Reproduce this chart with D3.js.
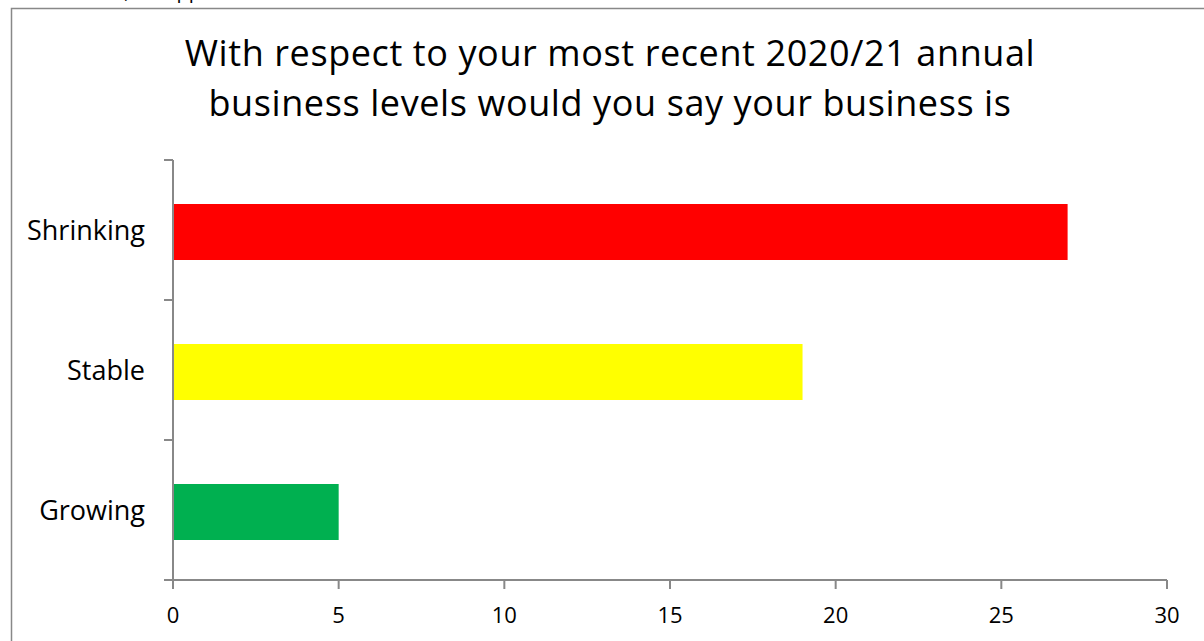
<!DOCTYPE html>
<html><head><meta charset="utf-8">
<script src="https://cdn.jsdelivr.net/npm/d3@7"></script>
<style>
html,body{margin:0;padding:0;background:#fff;overflow:hidden;}
text{font-family:"Open Sans",sans-serif;}
</style></head>
<body>
<svg id="c" width="1204" height="641"></svg>
<script>
const categories = ["Shrinking", "Stable", "Growing"];
const values = [27, 19, 5];
const colors = ["#ff0000", "#ffff00", "#00b050"];
const xTicks = [0, 5, 10, 15, 20, 25, 30];
const titleLines = ["With respect to your most recent 2020/21 annual", "business levels would you say your business is"];
const topNote = "51 answered, 1 skipped";

const svg = d3.select("#c");
svg.append("text").attr("x", 5).attr("y", -2).attr("font-size", 20).attr("fill", "#000").text(topNote);
svg.append("rect").attr("x", 11.5).attr("y", 8.5).attr("width", 1300).attr("height", 700)
  .attr("fill", "#fff").attr("stroke", "#888").attr("stroke-width", 1.5);

svg.selectAll("text.title").data(titleLines).join("text").attr("class", "title")
  .attr("x", 610).attr("y", (d, i) => 66 + i * 50).attr("text-anchor", "middle")
  .attr("font-size", 36).attr("letter-spacing", 0.6).attr("fill", "#000").text(d => d);

const x = d3.scaleLinear().domain([0, 30]).range([173, 1167]);
const y = d3.scaleBand().domain(categories).range([162, 582]).paddingInner(0.6).paddingOuter(0.3);
const yb = d3.scaleLinear().domain([0, 3]).range([160, 580]);

svg.selectAll("rect.bar").data(categories).join("rect").attr("class", "bar")
  .attr("x", x(0)).attr("y", d => y(d)).attr("width", (d, i) => x(values[i]) - x(0))
  .attr("height", y.bandwidth()).attr("fill", (d, i) => colors[i]);

const axisColor = "#888";
svg.append("line").attr("x1", 173).attr("x2", 173).attr("y1", 160).attr("y2", 580)
  .attr("stroke", axisColor).attr("stroke-width", 2);
svg.selectAll("line.yt").data(d3.range(4)).join("line").attr("class", "yt")
  .attr("x1", 164).attr("x2", 173).attr("y1", d => yb(d)).attr("y2", d => yb(d))
  .attr("stroke", axisColor).attr("stroke-width", 2);
svg.selectAll("text.yl").data(categories).join("text").attr("class", "yl")
  .attr("x", 145).attr("y", d => y(d) + y.bandwidth() / 2).attr("dy", "0.3em")
  .attr("text-anchor", "end").attr("font-size", 27).attr("fill", "#000").text(d => d);

svg.append("line").attr("x1", 164).attr("x2", 1167).attr("y1", 580).attr("y2", 580)
  .attr("stroke", axisColor).attr("stroke-width", 2);
svg.selectAll("line.xt").data(xTicks).join("line").attr("class", "xt")
  .attr("x1", d => x(d)).attr("x2", d => x(d)).attr("y1", 580).attr("y2", 589)
  .attr("stroke", axisColor).attr("stroke-width", 2);
svg.selectAll("text.xl").data(xTicks).join("text").attr("class", "xl")
  .attr("x", d => x(d)).attr("y", 623).attr("text-anchor", "middle")
  .attr("font-size", 22).attr("fill", "#000").text(d => d);
</script>
</body></html>
